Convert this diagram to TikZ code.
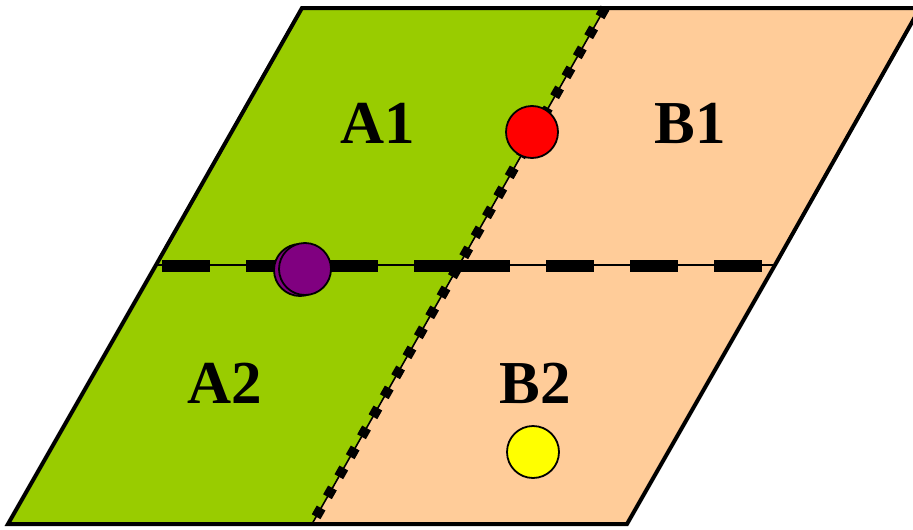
\documentclass[tikz,border=0pt]{standalone}
\usepackage{fontspec}
\setmainfont{Liberation Serif}
\definecolor{agreen}{HTML}{99CC00}
\definecolor{bpeach}{HTML}{FFCC99}
\definecolor{dotred}{HTML}{FF0000}
\definecolor{dotpurple}{HTML}{800080}
\definecolor{dotyellow}{HTML}{FFFF00}
\begin{document}
\begin{tikzpicture}[x=1pt,y=-1pt,
  region/.style={line width=4pt, line join=miter},
  lbl/.style={font=\fontsize{61}{61}\selectfont\bfseries, inner sep=0pt},
  dot/.style={circle, draw=black, line width=1.8pt, minimum size=52pt, inner sep=0pt},
  hdash/.style={line width=12pt, dash pattern=on 48pt off 36pt},
  ddot/.style={line width=10pt, dash pattern=on 10pt off 13pt},
  thin/.style={line width=1.6pt}]
\useasboundingbox (0,0) rectangle (913,530);
\clip (0,0) rectangle (913,530);
% corners
\coordinate (TL) at (302,8);
\coordinate (TM) at (605,8);
\coordinate (TR) at (920,8);
\coordinate (ML) at (156,265);
\coordinate (MM) at (460,265);
\coordinate (MR) at (775,265);
\coordinate (BL) at (8,524);
\coordinate (BM) at (312,524);
\coordinate (BR) at (627,524);
% fills
\fill[agreen] (TL) -- (TM) -- (MM) -- (ML) -- cycle;
\fill[bpeach] (TM) -- (TR) -- (MR) -- (MM) -- cycle;
\fill[agreen] (ML) -- (MM) -- (BM) -- (BL) -- cycle;
\fill[bpeach] (MM) -- (MR) -- (BR) -- (BM) -- cycle;
% outline
\draw[region] (TM) -- (TL) -- (ML) -- (BL) -- (BM) -- (BR) -- (MR) -- (TR) -- cycle;
% horizontal dashed boundary
\draw[thin] (ML) -- (MR);
\coordinate (HA) at (162,266);
\coordinate (HB) at (462,266);
\coordinate (HC) at (766,266);
\draw[hdash] (HA) -- (HB);
\draw[hdash] (HB) -- (HC);
% diagonal dotted boundary
\draw[thin] (TM) -- (BM);
\draw[ddot, xshift=-2.5pt] (TM) -- (BM);
% labels
\node[lbl] (A1) at (378,123) {A1};
\node[lbl] (B1) at (690,123) {B1};
\node[lbl] (A2) at (225,383) {A2};
\node[lbl] (B2) at (535,383) {B2};
% dots
\node[dot, fill=dotred] (red) at (532,132) {};
\node[dot, fill=dotpurple] (purpleshadow) at (300,270) {};
\node[dot, fill=dotpurple] (purple) at (305,269) {};
\node[dot, fill=dotyellow] (yellow) at (533,452) {};
\end{tikzpicture}
\end{document}
